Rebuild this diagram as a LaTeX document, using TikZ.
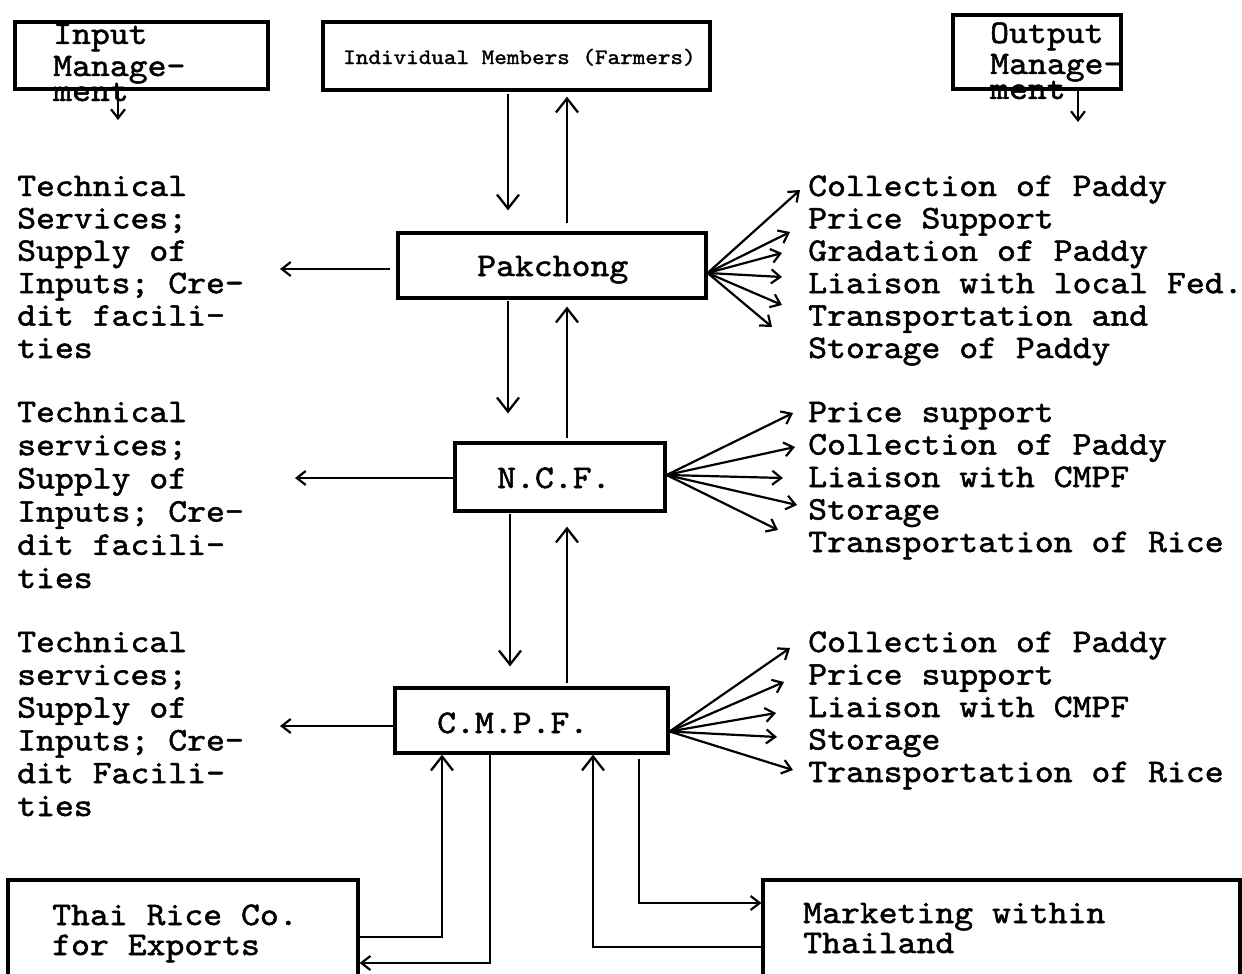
\documentclass[tikz,border=0pt]{standalone}
\usepackage{fontspec}
\newfontfamily\tw{lmmono10-regular.otf}[FakeStretch=1.09,FakeBold=1.5]
\usetikzlibrary{arrows.meta}
\tikzset{
  box/.style={draw, line width=3.2pt, inner sep=0pt},
  tl/.style={font=\tw\fontsize{33}{34}\selectfont, inner sep=0pt, anchor=base west},
  tls/.style={font=\tw\fontsize{22}{24}\selectfont, inner sep=0pt, anchor=base west},
  big/.style={line width=2.3pt, -{Straight Barb[length=14pt,width=22pt,line width=2.3pt]}},
  small/.style={line width=2.2pt, -{Straight Barb[length=9pt,width=14pt,line width=2.2pt]}},
}
\begin{document}
\begin{tikzpicture}[x=1pt,y=-1pt]
\useasboundingbox (0,0) rectangle (1242,974);
\clip (0,0) rectangle (1242,974);
% ---------- boxes
\node[box, minimum width=253pt, minimum height=67pt] (inb) at (141.5,55.5) {};
\node[box, minimum width=387pt, minimum height=68pt] (mem) at (516.5,56) {};
\node[box, minimum width=168pt, minimum height=74pt] (outb) at (1037,52) {};
\node[box, minimum width=308pt, minimum height=65pt] (pak) at (552,265.5) {};
\node[box, minimum width=210pt, minimum height=68pt] (ncf) at (560,477) {};
\node[box, minimum width=273pt, minimum height=65pt] (cmpf) at (531.5,720.5) {};
\node[box, minimum width=350pt, minimum height=110pt] (thai) at (183,935) {};
\node[box, minimum width=477pt, minimum height=110pt] (mkt) at (1001.5,935) {};
% ---------- box texts
\node[tl] (in1) at (53,44) {Input};
\node[tl] (in2) at (53,76) {Manage-};
\node[tl] (in3) at (53,101) {ment};
\node[tl] (ou1) at (990,43) {Output};
\node[tl] (ou2) at (990,74) {Manage-};
\node[tl] (ou3) at (990,99) {ment};
\node[tls] (memt) at (343,64) {Individual Members (Farmers)};
\node[tl] (pakt) at (477,276) {Pakchong};
\node[tl] (ncft) at (497,488) {N.C.F.};
\node[tl] (cmpft) at (437,733) {C.M.P.F.};
\node[tl] (th1) at (52,925) {Thai Rice Co.};
\node[tl] (th2) at (52,955) {for Exports};
\node[tl] (mk1) at (803,923) {Marketing within};
\node[tl] (mk2) at (803,953) {Thailand};
% ---------- side texts
\foreach \t [count=\i] in {Technical,Services;,Supply of,Inputs; Cre-,dit facili-,ties}
  \node[tl] (pl\i) at (17,{196+32.4*(\i-1)}) {\t};
\foreach \t [count=\i] in {Collection of Paddy,Price Support,Gradation of Paddy,Liaison with local Fed.,Transportation and,Storage of Paddy}
  \node[tl] (pr\i) at (808,{196+32.4*(\i-1)}) {\t};
\foreach \t [count=\i] in {Technical,services;,Supply of,Inputs; Cre-,dit facili-,ties}
  \node[tl] (nl\i) at (17,{422+33.2*(\i-1)}) {\t};
\foreach \t [count=\i] in {Price support,Collection of Paddy,Liaison with CMPF,Storage,Transportation of Rice}
  \node[tl] (nr\i) at (808,{422+32.5*(\i-1)}) {\t};
\foreach \t [count=\i] in {Technical,services;,Supply of,Inputs; Cre-,dit Facili-,ties}
  \node[tl] (cl\i) at (17,{652+32.8*(\i-1)}) {\t};
\foreach \t [count=\i] in {Collection of Paddy,Price support,Liaison with CMPF,Storage,Transportation of Rice}
  \node[tl] (cr\i) at (808,{652+32.5*(\i-1)}) {\t};
% ---------- helper coordinates
\coordinate (cL) at (508,0);
\coordinate (cR) at (567,0);
\coordinate (inA) at (118,120);
\coordinate (ouA) at (1078,122);
\coordinate (pakL) at (280,269);
\coordinate (ncfL) at (295,478);
\coordinate (cmpfL) at (280,726);
\coordinate (b1) at (442,937);
\coordinate (b2) at (490,963);
\coordinate (b3) at (593,947);
\coordinate (b4) at (639,903);
% fan tips
\coordinate (pa1) at (800,190);
\coordinate (pa2) at (790,232);
\coordinate (pa3) at (782,253);
\coordinate (pa4) at (782,277);
\coordinate (pa5) at (782,305);
\coordinate (pa6) at (772,327);
\coordinate (na1) at (793,413);
\coordinate (na2) at (795,447);
\coordinate (na3) at (783,478);
\coordinate (na4) at (797,505);
\coordinate (na5) at (778,530);
\coordinate (ca1) at (790,648);
\coordinate (ca2) at (784,682);
\coordinate (ca3) at (776,713);
\coordinate (ca4) at (777,737);
\coordinate (ca5) at (793,770);
% ---------- top arrows
\draw[small] (inb.south -| inA) -- (inA);
\draw[small] (outb.south -| ouA) -- (ouA);
% ---------- vertical chain
\draw[big, shorten <=2pt, shorten >=21pt] (mem.south -| cL) -- (pak.north -| cL);
\draw[big, shorten <=8pt, shorten >=5pt] (pak.north -| cR) -- (mem.south -| cR);
\draw[big, shorten <=1pt, shorten >=28pt] (pak.south -| cL) -- (ncf.north -| cL);
\draw[big, shorten <=3pt, shorten >=7pt] (ncf.north -| cR) -- (pak.south -| cR);
\draw[big, shorten <=1pt, shorten >=20pt] ([xshift=2pt]ncf.south -| cL) -- ([xshift=2pt]cmpf.north -| cL);
\draw[big, shorten <=3pt, shorten >=14pt] (cmpf.north -| cR) -- (ncf.south -| cR);
% ---------- left arrows
\draw[small, shorten <=6pt] (pak.west |- pakL) -- (pakL);
\draw[small] (ncf.west |- ncfL) -- (ncfL);
\draw[small] (cmpf.west |- cmpfL) -- (cmpfL);
% ---------- fans
\foreach \k in {1,...,6} \draw[small] ([yshift=-7.5pt]pak.east) -- (pa\k);
\foreach \k in {1,...,5} \draw[small] ([yshift=2pt]ncf.east) -- (na\k);
\foreach \k in {1,...,5} \draw[small] ([yshift=-11pt]cmpf.east) -- (ca\k);
% ---------- bottom connections
\draw[big] (thai.east |- b1) -| (cmpf.south -| b1);
\draw[small] (cmpf.south -| b2) |- (thai.east |- b2);
\draw[big] (mkt.west |- b3) -| (cmpf.south -| b3);
\draw[small, shorten <=4pt] (cmpf.south -| b4) |- (mkt.west |- b4);
\end{tikzpicture}
\end{document}
